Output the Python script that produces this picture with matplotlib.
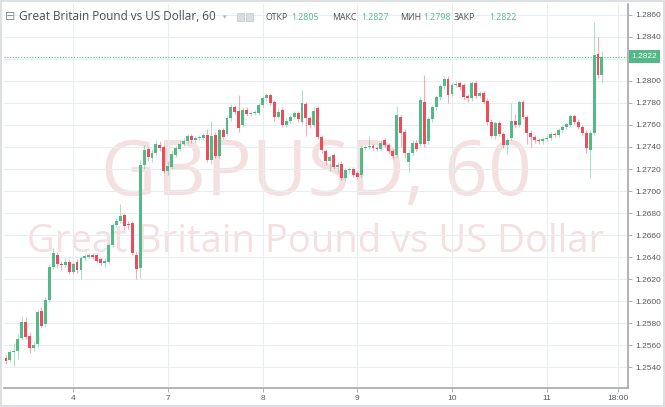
import numpy as np
import pandas as pd
import matplotlib
matplotlib.use("Agg")
import matplotlib.pyplot as plt
from matplotlib.patches import Rectangle
from matplotlib.transforms import blended_transform_factory

# --- hourly GBPUSD candles ---
times = list(pd.date_range("2019-01-03 07:00", "2019-01-04 23:00", freq="h")) + \
        list(pd.date_range("2019-01-07 00:00", "2019-01-11 14:00", freq="h"))

opens = [
    1.2549, 1.2547, 1.2554, 1.2555, 1.2567, 1.2581, 1.2569, 1.2558, 1.2561, 1.2591,
    1.2579, 1.2601, 1.2631, 1.2642, 1.2634, 1.2633, 1.2636, 1.2627, 1.2636, 1.2628,
    1.2639, 1.2640, 1.2642, 1.2642, 1.2638, 1.2635, 1.2636, 1.2651, 1.2669, 1.2673,
    1.2678, 1.2670, 1.2671, 1.2642, 1.2630, 1.2724, 1.2738, 1.2730, 1.2735, 1.2742,
    1.2740, 1.2718, 1.2722, 1.2733, 1.2738, 1.2743, 1.2745, 1.2750, 1.2746, 1.2748,
    1.2748, 1.2751, 1.2728, 1.2751, 1.2732, 1.2755, 1.2752, 1.2766, 1.2776, 1.2773,
    1.2760, 1.2774, 1.2770, 1.2771, 1.2771, 1.2778, 1.2784, 1.2787, 1.2781, 1.2767,
    1.2774, 1.2760, 1.2764, 1.2767, 1.2771, 1.2763, 1.2779, 1.2766, 1.2760, 1.2775,
    1.2749, 1.2736, 1.2727, 1.2733, 1.2722, 1.2725, 1.2712, 1.2719, 1.2720, 1.2716,
    1.2715, 1.2739, 1.2740, 1.2741, 1.2739, 1.2738, 1.2746, 1.2742, 1.2736, 1.2733,
    1.2767, 1.2754, 1.2726, 1.2735, 1.2744, 1.2743, 1.2781, 1.2745, 1.2765, 1.2776,
    1.2785, 1.2795, 1.2802, 1.2788, 1.2796, 1.2798, 1.2796, 1.2786, 1.2784, 1.2798,
    1.2786, 1.2789, 1.2782, 1.2763, 1.2750, 1.2762, 1.2752, 1.2742, 1.2748, 1.2764,
    1.2760, 1.2781, 1.2767, 1.2753, 1.2749, 1.2746, 1.2745, 1.2747, 1.2748, 1.2752,
    1.2751, 1.2755, 1.2758, 1.2760, 1.2768, 1.2763, 1.2758, 1.2753, 1.2737, 1.2753,
    1.2824, 1.2805,
]
highs = [
    1.2551, 1.2556, 1.2562, 1.2570, 1.2587, 1.2586, 1.2572, 1.2563, 1.2592, 1.2595,
    1.2604, 1.2634, 1.2648, 1.2645, 1.2637, 1.2639, 1.2638, 1.2636, 1.2638, 1.2641,
    1.2643, 1.2644, 1.2644, 1.2643, 1.2640, 1.2639, 1.2653, 1.2671, 1.2676, 1.2688,
    1.2680, 1.2673, 1.2673, 1.2645, 1.2728, 1.2742, 1.2741, 1.2738, 1.2746, 1.2745,
    1.2742, 1.2727, 1.2737, 1.2741, 1.2746, 1.2748, 1.2752, 1.2752, 1.2750, 1.2751,
    1.2753, 1.2756, 1.2764, 1.2754, 1.2757, 1.2757, 1.2768, 1.2779, 1.2778, 1.2787,
    1.2776, 1.2776, 1.2773, 1.2774, 1.2780, 1.2786, 1.2789, 1.2789, 1.2783, 1.2775,
    1.2776, 1.2766, 1.2769, 1.2773, 1.2773, 1.2792, 1.2781, 1.2768, 1.2776, 1.2777,
    1.2751, 1.2738, 1.2733, 1.2735, 1.2726, 1.2727, 1.2721, 1.2722, 1.2722, 1.2718,
    1.2741, 1.2742, 1.2750, 1.2743, 1.2741, 1.2746, 1.2748, 1.2744, 1.2738, 1.2777,
    1.2769, 1.2756, 1.2737, 1.2746, 1.2746, 1.2785, 1.2805, 1.2767, 1.2778, 1.2787,
    1.2797, 1.2804, 1.2804, 1.2798, 1.2800, 1.2800, 1.2798, 1.2788, 1.2800, 1.2800,
    1.2791, 1.2791, 1.2784, 1.2765, 1.2764, 1.2764, 1.2754, 1.2748, 1.2780, 1.2770,
    1.2783, 1.2783, 1.2769, 1.2755, 1.2751, 1.2748, 1.2749, 1.2750, 1.2754, 1.2754,
    1.2757, 1.2760, 1.2763, 1.2770, 1.2770, 1.2765, 1.2760, 1.2755, 1.2755, 1.2853,
    1.2840, 1.2827,
]
lows = [
    1.2543, 1.2545, 1.2541, 1.2548, 1.2565, 1.2566, 1.2553, 1.2555, 1.2559, 1.2576,
    1.2577, 1.2599, 1.2629, 1.2630, 1.2628, 1.2631, 1.2625, 1.2625, 1.2626, 1.2620,
    1.2637, 1.2638, 1.2638, 1.2635, 1.2633, 1.2631, 1.2634, 1.2649, 1.2667, 1.2671,
    1.2665, 1.2666, 1.2642, 1.2620, 1.2621, 1.2720, 1.2727, 1.2726, 1.2733, 1.2736,
    1.2716, 1.2715, 1.2720, 1.2731, 1.2736, 1.2741, 1.2743, 1.2744, 1.2744, 1.2746,
    1.2746, 1.2726, 1.2725, 1.2730, 1.2730, 1.2747, 1.2750, 1.2764, 1.2770, 1.2754,
    1.2758, 1.2768, 1.2768, 1.2769, 1.2769, 1.2776, 1.2782, 1.2778, 1.2764, 1.2765,
    1.2758, 1.2758, 1.2762, 1.2765, 1.2763, 1.2761, 1.2750, 1.2757, 1.2758, 1.2747,
    1.2735, 1.2724, 1.2718, 1.2720, 1.2716, 1.2710, 1.2709, 1.2716, 1.2713, 1.2711,
    1.2713, 1.2737, 1.2738, 1.2737, 1.2736, 1.2736, 1.2740, 1.2734, 1.2729, 1.2731,
    1.2740, 1.2730, 1.2717, 1.2733, 1.2736, 1.2741, 1.2740, 1.2743, 1.2763, 1.2774,
    1.2783, 1.2793, 1.2780, 1.2786, 1.2794, 1.2792, 1.2783, 1.2781, 1.2782, 1.2784,
    1.2784, 1.2779, 1.2760, 1.2748, 1.2747, 1.2750, 1.2739, 1.2734, 1.2746, 1.2757,
    1.2758, 1.2765, 1.2743, 1.2740, 1.2744, 1.2743, 1.2743, 1.2745, 1.2746, 1.2749,
    1.2749, 1.2753, 1.2756, 1.2758, 1.2761, 1.2756, 1.2751, 1.2735, 1.2712, 1.2751,
    1.2803, 1.2798,
]
closes = [
    1.2546, 1.2554, 1.2555, 1.2566, 1.2581, 1.2568, 1.2558, 1.2560, 1.2590, 1.2578,
    1.2601, 1.2631, 1.2644, 1.2634, 1.2633, 1.2636, 1.2627, 1.2634, 1.2628, 1.2639,
    1.2641, 1.2642, 1.2640, 1.2637, 1.2635, 1.2637, 1.2651, 1.2669, 1.2673, 1.2677,
    1.2668, 1.2669, 1.2644, 1.2629, 1.2724, 1.2737, 1.2731, 1.2735, 1.2743, 1.2739,
    1.2718, 1.2723, 1.2734, 1.2739, 1.2743, 1.2745, 1.2750, 1.2746, 1.2748, 1.2749,
    1.2751, 1.2728, 1.2750, 1.2732, 1.2755, 1.2749, 1.2766, 1.2776, 1.2772, 1.2757,
    1.2774, 1.2770, 1.2771, 1.2772, 1.2778, 1.2784, 1.2787, 1.2780, 1.2767, 1.2772,
    1.2760, 1.2764, 1.2767, 1.2771, 1.2765, 1.2780, 1.2766, 1.2760, 1.2773, 1.2749,
    1.2737, 1.2727, 1.2731, 1.2722, 1.2724, 1.2712, 1.2719, 1.2720, 1.2715, 1.2713,
    1.2739, 1.2740, 1.2741, 1.2739, 1.2738, 1.2744, 1.2742, 1.2736, 1.2732, 1.2769,
    1.2753, 1.2735, 1.2735, 1.2744, 1.2738, 1.2783, 1.2743, 1.2765, 1.2776, 1.2785,
    1.2795, 1.2802, 1.2787, 1.2796, 1.2797, 1.2794, 1.2785, 1.2784, 1.2798, 1.2786,
    1.2789, 1.2781, 1.2763, 1.2750, 1.2762, 1.2752, 1.2742, 1.2746, 1.2764, 1.2760,
    1.2781, 1.2767, 1.2753, 1.2749, 1.2746, 1.2745, 1.2747, 1.2748, 1.2752, 1.2751,
    1.2755, 1.2758, 1.2761, 1.2768, 1.2763, 1.2758, 1.2753, 1.2739, 1.2753, 1.2823,
    1.2805, 1.2822,
]

title = "Great Britain Pound vs US Dollar, 60"
watermark = "GBPUSD, 60"
ohlc_labels = ["ОТКР", "МАКС", "МИН", "ЗАКР"]
ohlc_values = ["1.2805", "1.2827", "1.2798", "1.2822"]
last_price = 1.2822
yticks = np.arange(1.2540, 1.28601, 0.002)

GREEN = "#53b987"
RED = "#eb4d5c"
GRID = "#e9edf1"
AXIS = "#a3a6a9"
TXT = "#555a5e"
WM = "#f4e0e0"

W, H = 665, 407
fig = plt.figure(figsize=(W / 100, H / 100), dpi=100)
fig.patch.set_facecolor("white")

def px(x0, y0, x1, y1):
    return [x0 / W, 1 - y1 / H, (x1 - x0) / W, (y1 - y0) / H]

ax = fig.add_axes(px(4, 4, 628, 388))
ax.set_facecolor("white")

idx = np.arange(len(closes))
o = np.array(opens); c = np.array(closes)
hi = np.array(highs); lo = np.array(lows)
up = c >= o
cols = np.where(up, GREEN, RED)

# watermark
ax.text(0.5, 0.503, watermark, transform=ax.transAxes, ha="center", va="baseline",
        fontsize=55, family="Open Sans", color=WM, zorder=0)
ax.text(0.5, 0.354, "Great Britain Pound vs US Dollar", transform=ax.transAxes,
        ha="center", va="baseline", fontsize=27.5, family="Open Sans", color=WM, zorder=0)

# wicks + bodies
for i in idx:
    ax.vlines(i, lo[i], hi[i], color=cols[i], alpha=0.45, lw=0.8, zorder=2)
body = np.maximum(np.abs(c - o), 0.00005)
ax.bar(idx, body, bottom=np.minimum(o, c), width=0.74, color=cols, lw=0, zorder=3)

ax.axhline(last_price, color=GREEN, ls=(0, (1, 1.5)), lw=0.8, zorder=1)

# x ticks at midnights + 18:00 of last day
day_idx = [i for i, t in enumerate(times) if t.hour == 0]
xt = day_idx + [day_idx[-1] + 18]
xl = [str(times[i].day) for i in day_idx] + ["18:00"]
ax.set_xticks(xt)
ax.set_xticklabels(xl)
ax.set_xlim(-0.5, 157.6)
ax.set_ylim(1.25214, 1.28697)
ax.set_yticks(yticks)
# tick label hidden behind the last-price tag
ax.set_yticklabels(["" if abs(v - 1.2820) < 1e-6 else f"{v:.4f}" for v in yticks])
ax.yaxis.tick_right()
ax.grid(True, color=GRID, lw=0.8, zorder=0)
ax.set_axisbelow(True)
ax.tick_params(axis="both", colors=AXIS, labelcolor=TXT, labelsize=6, length=3, width=0.6)
ax.tick_params(axis="y", pad=2)
ax.tick_params(axis="x", pad=2)
for lab in ax.get_xticklabels() + ax.get_yticklabels():
    lab.set_family("Liberation Sans")
for s in ["left", "top"]:
    ax.spines[s].set_visible(False)
for s in ["right", "bottom"]:
    ax.spines[s].set_color(AXIS)
    ax.spines[s].set_linewidth(1.2)

# last price tag
tr = blended_transform_factory(ax.transAxes, ax.transData)
ax.text(1.006, last_price, f"{last_price:.4f}", transform=tr, ha="left", va="center",
        fontsize=6, family="Liberation Sans", color="white", clip_on=False, zorder=6,
        bbox=dict(boxstyle="square,pad=0.35", fc=GREEN, ec="none"))

# cover clipped part of the last date label
fig.patches.append(Rectangle((628 / W, 0), 36 / W, 18 / H, transform=fig.transFigure,
                             fc="white", ec="none", zorder=5))

# header
fig.text(5 / W, 1 - 17 / H, "⊟", fontsize=9, color="#8a8f94", va="center", family="DejaVu Sans")
fig.text(19 / W, 1 - 17 / H, title, fontsize=8.5, color="#4a4f54", va="center", family="Open Sans")
fig.text(223 / W, 1 - 17 / H, "▾", fontsize=5, color="#b0b4b8", va="center", family="DejaVu Sans")
for x0 in (237, 246):
    fig.patches.append(Rectangle((x0 / W, 1 - 21 / H), 7 / W, 8 / H, transform=fig.transFigure,
                                 fc="#d9dde1", ec="#c3c8cc", lw=0.5, zorder=5))
xs_lab = [265, 332, 400, 454]
xs_val = [291, 361, 423, 489]
for xl_, xv_, lab, val in zip(xs_lab, xs_val, ohlc_labels, ohlc_values):
    fig.text(xl_ / W, 1 - 17 / H, lab, fontsize=6.3, color="#4a4f54", va="center", family="Open Sans")
    fig.text(xv_ / W, 1 - 17 / H, val, fontsize=6.3, color=GREEN, va="center", family="Open Sans")

# outer frame
fig.patches.append(Rectangle((1 / W, 1 / H), 663 / W, 405 / H, transform=fig.transFigure,
                             fc="none", ec="#d5dae0", lw=1.2, zorder=6))

fig.savefig("out.png", dpi=100)
